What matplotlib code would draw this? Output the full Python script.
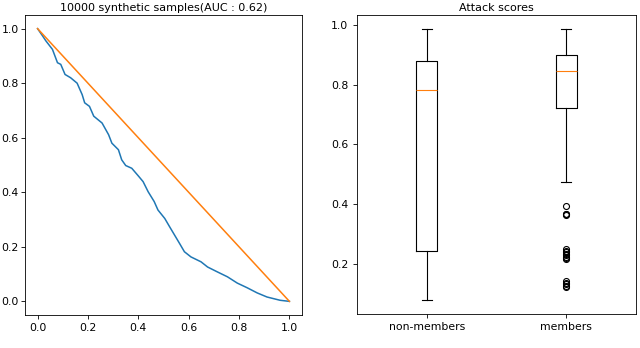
import matplotlib
matplotlib.use('Agg')
import matplotlib.pyplot as plt

# ROC-like curve
fpr = [0.0, 0.02, 0.033, 0.059, 0.079, 0.092, 0.109, 0.131, 0.157, 0.177, 0.187,
       0.206, 0.223, 0.256, 0.282, 0.295, 0.321, 0.334, 0.35, 0.374, 0.40,
       0.419, 0.439, 0.463, 0.478, 0.505, 0.524, 0.544, 0.564, 0.583, 0.609,
       0.649, 0.675, 0.714, 0.754, 0.793, 0.832, 0.872, 0.911, 0.963, 1.0]
tpr = [1.0, 0.973, 0.955, 0.924, 0.875, 0.869, 0.832, 0.82, 0.80, 0.758, 0.728,
       0.715, 0.679, 0.654, 0.611, 0.58, 0.556, 0.519, 0.498, 0.488, 0.46,
       0.439, 0.402, 0.366, 0.335, 0.304, 0.274, 0.243, 0.212, 0.182, 0.163,
       0.145, 0.126, 0.108, 0.09, 0.067, 0.05, 0.031, 0.016, 0.004, 0.0]
diag_x = [0.0, 1.0]
diag_y = [1.0, 0.0]
auc = 0.62
n_samples = 10000

# box plot summary stats
labels = ['non-members', 'members']
q1 = [0.241, 0.722]
med = [0.783, 0.847]
q3 = [0.878, 0.899]
whislo = [0.077, 0.475]
whishi = [0.988, 0.988]
fliers = [[], [0.395, 0.368, 0.366, 0.364, 0.248, 0.243, 0.238, 0.233, 0.228,
               0.223, 0.219, 0.215, 0.141, 0.136, 0.131, 0.126, 0.122]]

fs = 7.8
plt.rcParams['font.size'] = fs
plt.rcParams['xtick.major.size'] = 2.6
plt.rcParams['ytick.major.size'] = 2.6
plt.rcParams['axes.linewidth'] = 0.6
plt.rcParams['xtick.major.width'] = 0.6
plt.rcParams['ytick.major.width'] = 0.6

fig = plt.figure(figsize=(6.4, 3.48), dpi=100)
ax1 = fig.add_axes([25/640, 1 - 315/348, 277/640, 300/348])
ax2 = fig.add_axes([357/640, 1 - 314/348, 279/640, 299/348])

ax1.plot(fpr, tpr, color='#1f77b4', lw=1.1)
ax1.plot(diag_x, diag_y, color='#ff7f0e', lw=1.1)
ax1.set_title('%d synthetic samples(AUC : %.2f)' % (n_samples, auc), fontsize=8, pad=3)
ax1.tick_params(axis='y', pad=2)

stats = []
for i in range(len(labels)):
    stats.append(dict(label=labels[i], q1=q1[i], med=med[i], q3=q3[i],
                      whislo=whislo[i], whishi=whishi[i], fliers=fliers[i]))
ax2.bxp(stats,
        boxprops=dict(lw=0.8), whiskerprops=dict(lw=0.8), capprops=dict(lw=0.8),
        medianprops=dict(lw=0.8, color='#ff7f0e'),
        flierprops=dict(marker='o', markersize=4.3, markerfacecolor='none',
                        markeredgewidth=0.8))
ax2.set_title('Attack scores', fontsize=8, pad=3)

fig.savefig('out.png', dpi=100)
